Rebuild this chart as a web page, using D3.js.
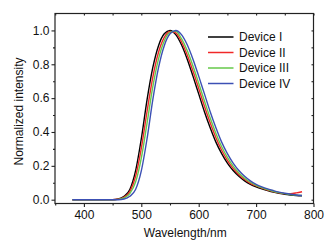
<!DOCTYPE html>
<html>
<head>
<meta charset="utf-8">
<script src="https://cdn.jsdelivr.net/npm/d3@7"></script>
<style>
  html, body { margin: 0; padding: 0; background: #fff; }
  svg { display: block; font-family: "Liberation Sans", Arial, sans-serif; }
</style>
</head>
<body>
<svg id="chart" width="335" height="251"></svg>
<script>
// ---- data ----
const wavelengths = [380,390,400,410,420,430,440,450,460,470,480,490,500,510,520,530,540,550,560,570,580,590,600,610,620,630,640,650,660,670,680,690,700,710,720,730,740,750,760,770,780];
const deviceI   = [0,0,0,0,0,0,0,0,0.004,0.02,0.06,0.17,0.36,0.59,0.78,0.91,0.98,1.0,0.975,0.915,0.83,0.73,0.625,0.52,0.425,0.34,0.272,0.216,0.172,0.138,0.111,0.091,0.076,0.064,0.054,0.045,0.038,0.032,0.028,0.025,0.023];
const deviceII  = [0,0,0,0,0,0,0,0,0.003,0.015,0.048,0.137,0.303,0.521,0.723,0.871,0.959,0.994,0.985,0.933,0.855,0.76,0.657,0.552,0.454,0.366,0.292,0.233,0.185,0.148,0.119,0.097,0.081,0.068,0.057,0.048,0.041,0.036,0.036,0.04,0.047];
const deviceIII = [0,0,0,0,0,0,0,0,0.002,0.01,0.036,0.104,0.246,0.452,0.666,0.832,0.938,0.988,0.995,0.951,0.881,0.79,0.688,0.583,0.482,0.391,0.313,0.25,0.198,0.158,0.127,0.103,0.085,0.071,0.06,0.05,0.042,0.036,0.031,0.027,0.025];
const deviceIV  = [0,0,0,0,0,0,0,0,0,0.004,0.02,0.06,0.17,0.36,0.59,0.78,0.91,0.98,1.0,0.975,0.915,0.83,0.73,0.625,0.52,0.425,0.34,0.272,0.216,0.172,0.138,0.111,0.091,0.076,0.064,0.054,0.045,0.038,0.032,0.028,0.025];
const seriesNames = ["Device I","Device II","Device III","Device IV"];
const seriesColors = ["#000000","#f02828","#66c84a","#3c50b4"];
const xTicks = [400,500,600,700,800];
const yTicks = [0.0,0.2,0.4,0.6,0.8,1.0];

const allSeries = [deviceI, deviceII, deviceIII, deviceIV];

// ---- layout ----
const svg = d3.select("#chart");
const L = 55, R = 313.5, T = 13.5, B = 203.5;
const x = d3.scaleLinear().domain([350, 800]).range([L + 0.2, R]);
const y = d3.scaleLinear().domain([-0.0225, 1.1]).range([B, T]);

const axisColor = "#222";

// curves
const line = d3.line()
  .x((d, i) => x(wavelengths[i]))
  .y(d => y(d))
  .curve(d3.curveMonotoneX);

allSeries.forEach((s, k) => {
  svg.append("path")
    .attr("d", line(s))
    .attr("fill", "none")
    .attr("stroke", seriesColors[k])
    .attr("stroke-width", 1.4);
});

// frame
svg.append("rect")
  .attr("x", L).attr("y", T)
  .attr("width", R - L).attr("height", B - T)
  .attr("fill", "none").attr("stroke", axisColor).attr("stroke-width", 1.2);

// axes
const xMinor = d3.range(350, 801, 50).filter(v => v % 100 !== 0);
const yMinor = [0.1,0.3,0.5,0.7,0.9];

const gx = svg.append("g").attr("transform", `translate(0,${B})`)
  .call(d3.axisBottom(x).tickValues(xTicks).tickSize(3.5).tickPadding(3).tickFormat(d3.format("d")));
const gxm = svg.append("g").attr("transform", `translate(0,${B})`)
  .call(d3.axisBottom(x).tickValues(xMinor).tickSize(2).tickFormat(""));
const gy = svg.append("g").attr("transform", `translate(${L},0)`)
  .call(d3.axisLeft(y).tickValues(yTicks).tickSize(3.5).tickPadding(2).tickFormat(d3.format(".1f")));
const gym = svg.append("g").attr("transform", `translate(${L},0)`)
  .call(d3.axisLeft(y).tickValues(yMinor).tickSize(2).tickFormat(""));
// top & right inner ticks
const gt = svg.append("g").attr("transform", `translate(0,${T})`)
  .call(d3.axisBottom(x).tickValues(xTicks.concat(xMinor)).tickSize(2).tickFormat(""));
const gr = svg.append("g").attr("transform", `translate(${R},0)`)
  .call(d3.axisLeft(y).tickValues(yTicks.concat(yMinor)).tickSize(2).tickFormat(""));

[gx, gxm, gy, gym, gt, gr].forEach(g => {
  g.select(".domain").remove();
  g.selectAll("line").attr("stroke", axisColor).attr("stroke-width", 1.1);
  g.selectAll("text").attr("fill", "#111").style("font-size", "12px")
    .style("font-family", "'Liberation Sans', Arial, sans-serif");
});

// axis titles
svg.append("text")
  .attr("x", (L + R) / 2 + 1).attr("y", 237)
  .attr("text-anchor", "middle")
  .style("font-size", "12px").attr("fill", "#111")
  .text("Wavelength/nm");
svg.append("text")
  .attr("transform", `translate(23,${(T + B) / 2 + 3}) rotate(-90)`)
  .attr("text-anchor", "middle")
  .style("font-size", "12px").attr("fill", "#111")
  .text("Normalized intensity");

// legend
const lg = svg.append("g");
seriesNames.forEach((name, k) => {
  const yy = 37 + k * 15.5;
  lg.append("line")
    .attr("x1", 208).attr("x2", 233.5)
    .attr("y1", yy).attr("y2", yy)
    .attr("stroke", seriesColors[k]).attr("stroke-width", 1.5);
  lg.append("text")
    .attr("x", 239).attr("y", yy + 4.3)
    .style("font-size", "12px").attr("fill", "#111")
    .text(name);
});
</script>
</body>
</html>
